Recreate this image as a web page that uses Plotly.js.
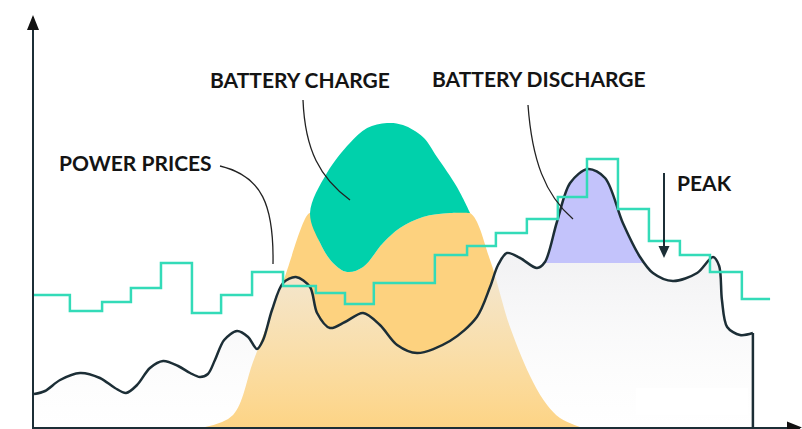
<!DOCTYPE html>
<html>
<head>
<meta charset="utf-8">
<script src="https://cdn.plot.ly/plotly-3.0.1.min.js"></script>
<style>html,body{margin:0;padding:0;background:#fff;}#chart{width:802px;height:429px;}</style>
</head>
<body>
<div id="chart"></div>
<script>
// ---------- DATA ----------
// Power price steps: start hour of each step, and the step value (arbitrary units)
const priceEdges = [0,1.17,2.22,3.16,4.14,5.15,6.10,7.11,8.12,9.19,10.14,11.08,12.09,13.07,14.12,15.06,16.07,17.08,18.03,19.04,20.05,21.06,22.04,23.08,24.0];
const priceValues = [33,29,31.25,34.75,41,28.5,33,38.75,35.25,33.5,30.75,36,36,43,45.25,48.5,52,57.5,67,54.5,46.5,43,38.75,32];

// Site load (hours, power)
const loadHours = [0,0.36,0.85,1.5,2.15,2.64,3.0,3.36,3.78,4.21,4.7,5.09,5.41,5.67,5.9,6.2,6.62,6.98,7.27,7.47,7.76,8.12,8.54,9.0,9.23,9.65,10.14,10.73,11.28,11.84,12.49,13.56,14.44,14.87,15.13,15.42,15.85,16.4,16.66,17.05,17.48,18.06,18.62,19.2,19.76,20.18,20.83,21.62,22.14,22.34,22.43,22.6,23.02,23.44];
const loadValues = [8.25,9,11.75,13.5,12.25,9.75,8.5,10.5,14.75,16.5,15.25,13.5,12.5,13.25,16.75,21.75,24,22.5,19.5,21.75,29.25,36,37.5,35,28.5,24.75,26.25,28.5,25.5,20.5,18.5,21.5,27.5,35,40.5,43.5,42.25,39.75,41.25,51.25,61,64.5,62.25,51,42.5,38.5,36.5,38.5,42.5,40.25,31.75,25,23,23.5];

// Total solar production (bell)
const solarHours = [5.58,6.49,7.14,7.6,8.12,9.0,9.55,10.3,10.86,11.51,12.03,12.68,13.14,13.79,14.22,14.87,15.52,16.27,16.73,17.15,17.8];
const solarValues = [0,3,16.25,25.5,36.25,53.5,63.5,71,74.75,76,75.5,72.5,67.5,60,53.5,41.75,25,11.25,5.5,2.25,0];

// Lower edge of the battery-charge band (solar used directly)
const chargeHours = [9.0,9.33,9.75,10.21,10.73,11.38,11.93,12.68,13.56,14.22];
const chargeValues = [53.5,46,41,38.75,40,46,49.75,52.5,53.5,53.5];

// Peak-shaving threshold for battery discharge
const dischargeThreshold = 41;

// ---------- helpers (pixel -> data / paper, used only for decorations) ----------
const PXH = 30.67, X0 = 34, Y0 = 427, PYV = 4, TOP = 17, RIGHT = 800;
const X = px => (px - X0) / PXH;
const Y = py => (Y0 - py) / PYV;
const PX = px => (px - X0) / (RIGHT - X0);
const PY = py => (Y0 - py) / (Y0 - TOP);

// orange: solar used directly
const cStart = chargeHours[0], cEnd = chargeHours[chargeHours.length-1];
const dirX = [], dirY = [];
solarHours.forEach((h,i)=>{ if (h < cStart) { dirX.push(h); dirY.push(solarValues[i]); } });
chargeHours.forEach((h,i)=>{ dirX.push(h); dirY.push(chargeValues[i]); });
solarHours.forEach((h,i)=>{ if (h > cEnd) { dirX.push(h); dirY.push(solarValues[i]); } });

// green: between bell and charge lower edge
const grX = [], grY = [];
solarHours.forEach((h,i)=>{ if (h >= cStart && h <= cEnd) { grX.push(h); grY.push(solarValues[i]); } });
for (let i = chargeHours.length-1; i >= 0; i--) { grX.push(chargeHours[i]); grY.push(chargeValues[i]); }

// purple: part of the main load peak above threshold
let imax = 0; loadValues.forEach((v,i)=>{ if (v > loadValues[imax]) imax = i; });
let a = imax, b = imax;
while (a > 0 && loadValues[a-1] > dischargeThreshold) a--;
while (b < loadValues.length-1 && loadValues[b+1] > dischargeThreshold) b++;
const cross = (i,j) => { const t = (dischargeThreshold - loadValues[i]) / (loadValues[j] - loadValues[i]); return loadHours[i] + t*(loadHours[j]-loadHours[i]); };
const puX = [cross(a-1,a)], puY = [dischargeThreshold];
for (let i = a; i <= b; i++) { puX.push(loadHours[i]); puY.push(loadValues[i]); }
puX.push(cross(b,b+1)); puY.push(dischargeThreshold);

// price step line
const prX = priceEdges.slice();
const prY = priceValues.concat([priceValues[priceValues.length-1]]);

const dark = '#1c2e36';
const traces = [
  {x: dirX, y: dirY, type:'scatter', mode:'lines', line:{width:0, shape:'spline', smoothing:1}, fill:'tozeroy', fillcolor:'#fdd27f', hoverinfo:'skip'},
  {x: grX, y: grY, type:'scatter', mode:'lines', line:{width:0, shape:'spline', smoothing:1}, fill:'toself', fillcolor:'#00d1ab', hoverinfo:'skip'},
  {x: loadHours, y: loadValues, type:'scatter', mode:'lines', line:{width:0, shape:'spline', smoothing:0.9}, fill:'tozeroy',
    fillgradient:{type:'vertical', start:0, stop:40, colorscale:[[0,'rgba(248,248,248,0.05)'],[1,'rgba(238,238,240,0.72)']]}, hoverinfo:'skip'},
  {x: puX, y: puY, type:'scatter', mode:'lines', line:{width:0, shape:'spline', smoothing:0.9}, fill:'toself', fillcolor:'#c3c3fb', hoverinfo:'skip'},
  {x: loadHours, y: loadValues, type:'scatter', mode:'lines', line:{color:dark, width:2.5, shape:'spline', smoothing:0.9}, hoverinfo:'skip'},
  {x: [loadHours[loadHours.length-1], loadHours[loadHours.length-1]], y:[loadValues[loadValues.length-1], 0], type:'scatter', mode:'lines', line:{color:dark, width:2.5}, hoverinfo:'skip'},
  {x: prX, y: prY, type:'scatter', mode:'lines', line:{color:'#33dbb8', width:2.5, shape:'hv'}, hoverinfo:'skip'}
];

const lbl = (text, cx, cy) => ({text, x: X(cx), y: Y(cy), xref:'x', yref:'y', showarrow:false, xanchor:'center', yanchor:'middle',
  font:{family:'Lato, "Open Sans", sans-serif', size:21, color:'#141414', weight:700}});
const bez = (p) => 'M ' + X(p[0]) + ',' + Y(p[1]) + ' C ' + X(p[2]) + ',' + Y(p[3]) + ' ' + X(p[4]) + ',' + Y(p[5]) + ' ' + X(p[6]) + ',' + Y(p[7]);

const layout = {
  width: 802, height: 429,
  margin: {l:X0, r:802-RIGHT, t:TOP, b:429-Y0, pad:0},
  paper_bgcolor:'#ffffff', plot_bgcolor:'#ffffff',
  showlegend:false,
  xaxis:{range:[0, (RIGHT-X0)/PXH], showgrid:false, zeroline:false, showticklabels:false, ticks:'', showline:true, linecolor:dark, linewidth:2.5, fixedrange:true},
  yaxis:{range:[0, (Y0-TOP)/PYV], showgrid:false, zeroline:false, showticklabels:false, ticks:'', showline:true, linecolor:dark, linewidth:2.5, fixedrange:true},
  annotations:[
    lbl('POWER PRICES', 135, 162),
    lbl('BATTERY CHARGE', 300, 79),
    lbl('BATTERY DISCHARGE', 539, 78),
    lbl('PEAK', 704, 182)
  ],
  shapes:[
    {type:'path', xref:'x', yref:'y', path: bez([220,166, 262,176, 274,205, 273,264]), line:{color:'#222', width:1.3}},
    {type:'path', xref:'x', yref:'y', path: bez([303,100, 305,150, 320,178, 350,200]), line:{color:'#222', width:1.3}},
    {type:'path', xref:'x', yref:'y', path: bez([528,105, 532,160, 545,195, 573,219]), line:{color:'#222', width:1.3}},
    {type:'line', xref:'x', yref:'y', x0:X(664), x1:X(664), y0:Y(173), y1:Y(250), line:{color:dark, width:2}},
    {type:'path', xref:'x', yref:'y', path:'M '+X(658.5)+','+Y(246)+' L '+X(669.5)+','+Y(246)+' L '+X(664)+','+Y(258)+' Z', fillcolor:dark, line:{width:0}},
    {type:'path', xref:'paper', yref:'paper', path:'M '+PX(33)+','+PY(15)+' L '+PX(27)+','+PY(30)+' L '+PX(39)+','+PY(30)+' Z', fillcolor:'#111', line:{width:0}},
    {type:'path', xref:'paper', yref:'paper', path:'M '+PX(802)+','+PY(427.5)+' L '+PX(787)+','+PY(421.5)+' L '+PX(787)+','+PY(433.5)+' Z', fillcolor:'#111', line:{width:0}},
    {type:'rect', xref:'x', yref:'y', x0:X(636), x1:X(748), y0:Y(415), y1:Y(388), fillcolor:'#ffffff', line:{width:0}, layer:'above'}
  ]
};

Plotly.newPlot('chart', traces, layout, {staticPlot:true, displayModeBar:false});
</script>
</body>
</html>
